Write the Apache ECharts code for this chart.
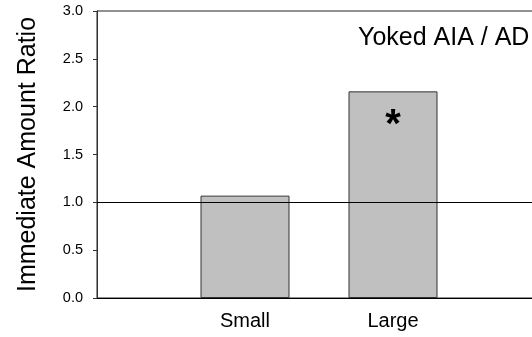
<!DOCTYPE html>
<html>
<head>
<meta charset="utf-8">
<script src="https://cdn.jsdelivr.net/npm/echarts@6/dist/echarts.min.js"></script>
<style>
  html, body { margin: 0; padding: 0; background: #fff; }
  #chart { width: 532px; height: 337px; }
</style>
</head>
<body>
<div id="chart"></div>
<script>
// Categories along the x axis (empty slots pad the ends of the axis)
const categories = ['', 'Small', 'Large', ''];
// Immediate amount ratio per condition
const ratios = [null, 1.07, 2.16, null];
// Significance markers drawn inside each bar
const markers = ['', '', '*', ''];
// Y axis tick range
const yMin = 0, yMax = 3.0, yStep = 0.5;
const referenceLevel = 1.0;
const panelLabel = 'Yoked AIA / AD';

const font = 'Liberation Sans, Arial, Helvetica, sans-serif';
const chart = echarts.init(document.getElementById('chart'), null, { renderer: 'canvas' });

chart.setOption({
  animation: false,
  backgroundColor: '#fff',
  title: {
    text: panelLabel,
    left: 358,
    top: 26,
    padding: 0,
    textStyle: { fontFamily: font, fontSize: 25, fontWeight: 'normal', color: '#000' }
  },
  grid: {
    left: 97, top: 11, height: 287, width: 444,
    outerBoundsMode: 'none',
    containLabel: false,
    show: true, borderColor: '#222', borderWidth: 1, backgroundColor: 'transparent'
  },
  xAxis: {
    type: 'category',
    data: categories,
    boundaryGap: false,
    axisLine: { lineStyle: { color: '#000', width: 1 } },
    axisTick: { show: false },
    axisLabel: { fontFamily: font, fontSize: 20, color: '#000', margin: 13, interval: 0 },
    splitLine: { show: false }
  },
  yAxis: {
    type: 'value',
    min: yMin, max: yMax, interval: yStep,
    name: 'Immediate Amount Ratio',
    nameLocation: 'middle',
    nameGap: 56,
    nameTextStyle: { fontFamily: font, fontSize: 25, color: '#000' },
    axisLine: { show: true, lineStyle: { color: '#333', width: 1 } },
    axisTick: { show: true, length: 4, lineStyle: { color: '#333' } },
    axisLabel: {
      fontFamily: font, fontSize: 14.5, color: '#000', margin: 14,
      formatter: v => v.toFixed(1)
    },
    splitLine: { show: false }
  },
  series: [{
    type: 'bar',
    data: ratios,
    barWidth: 89,
    itemStyle: { color: '#c0c0c0', borderColor: '#333', borderWidth: 1 },
    label: {
      show: true,
      position: 'insideTop',
      distance: 15,
      formatter: p => markers[p.dataIndex],
      fontFamily: font, fontSize: 40, fontWeight: 'bold', color: '#000'
    },
    markLine: {
      silent: true,
      symbol: 'none',
      label: { show: false },
      lineStyle: { color: '#000', width: 1, type: 'solid' },
      data: [{ yAxis: referenceLevel }]
    }
  }]
});
</script>
</body>
</html>
